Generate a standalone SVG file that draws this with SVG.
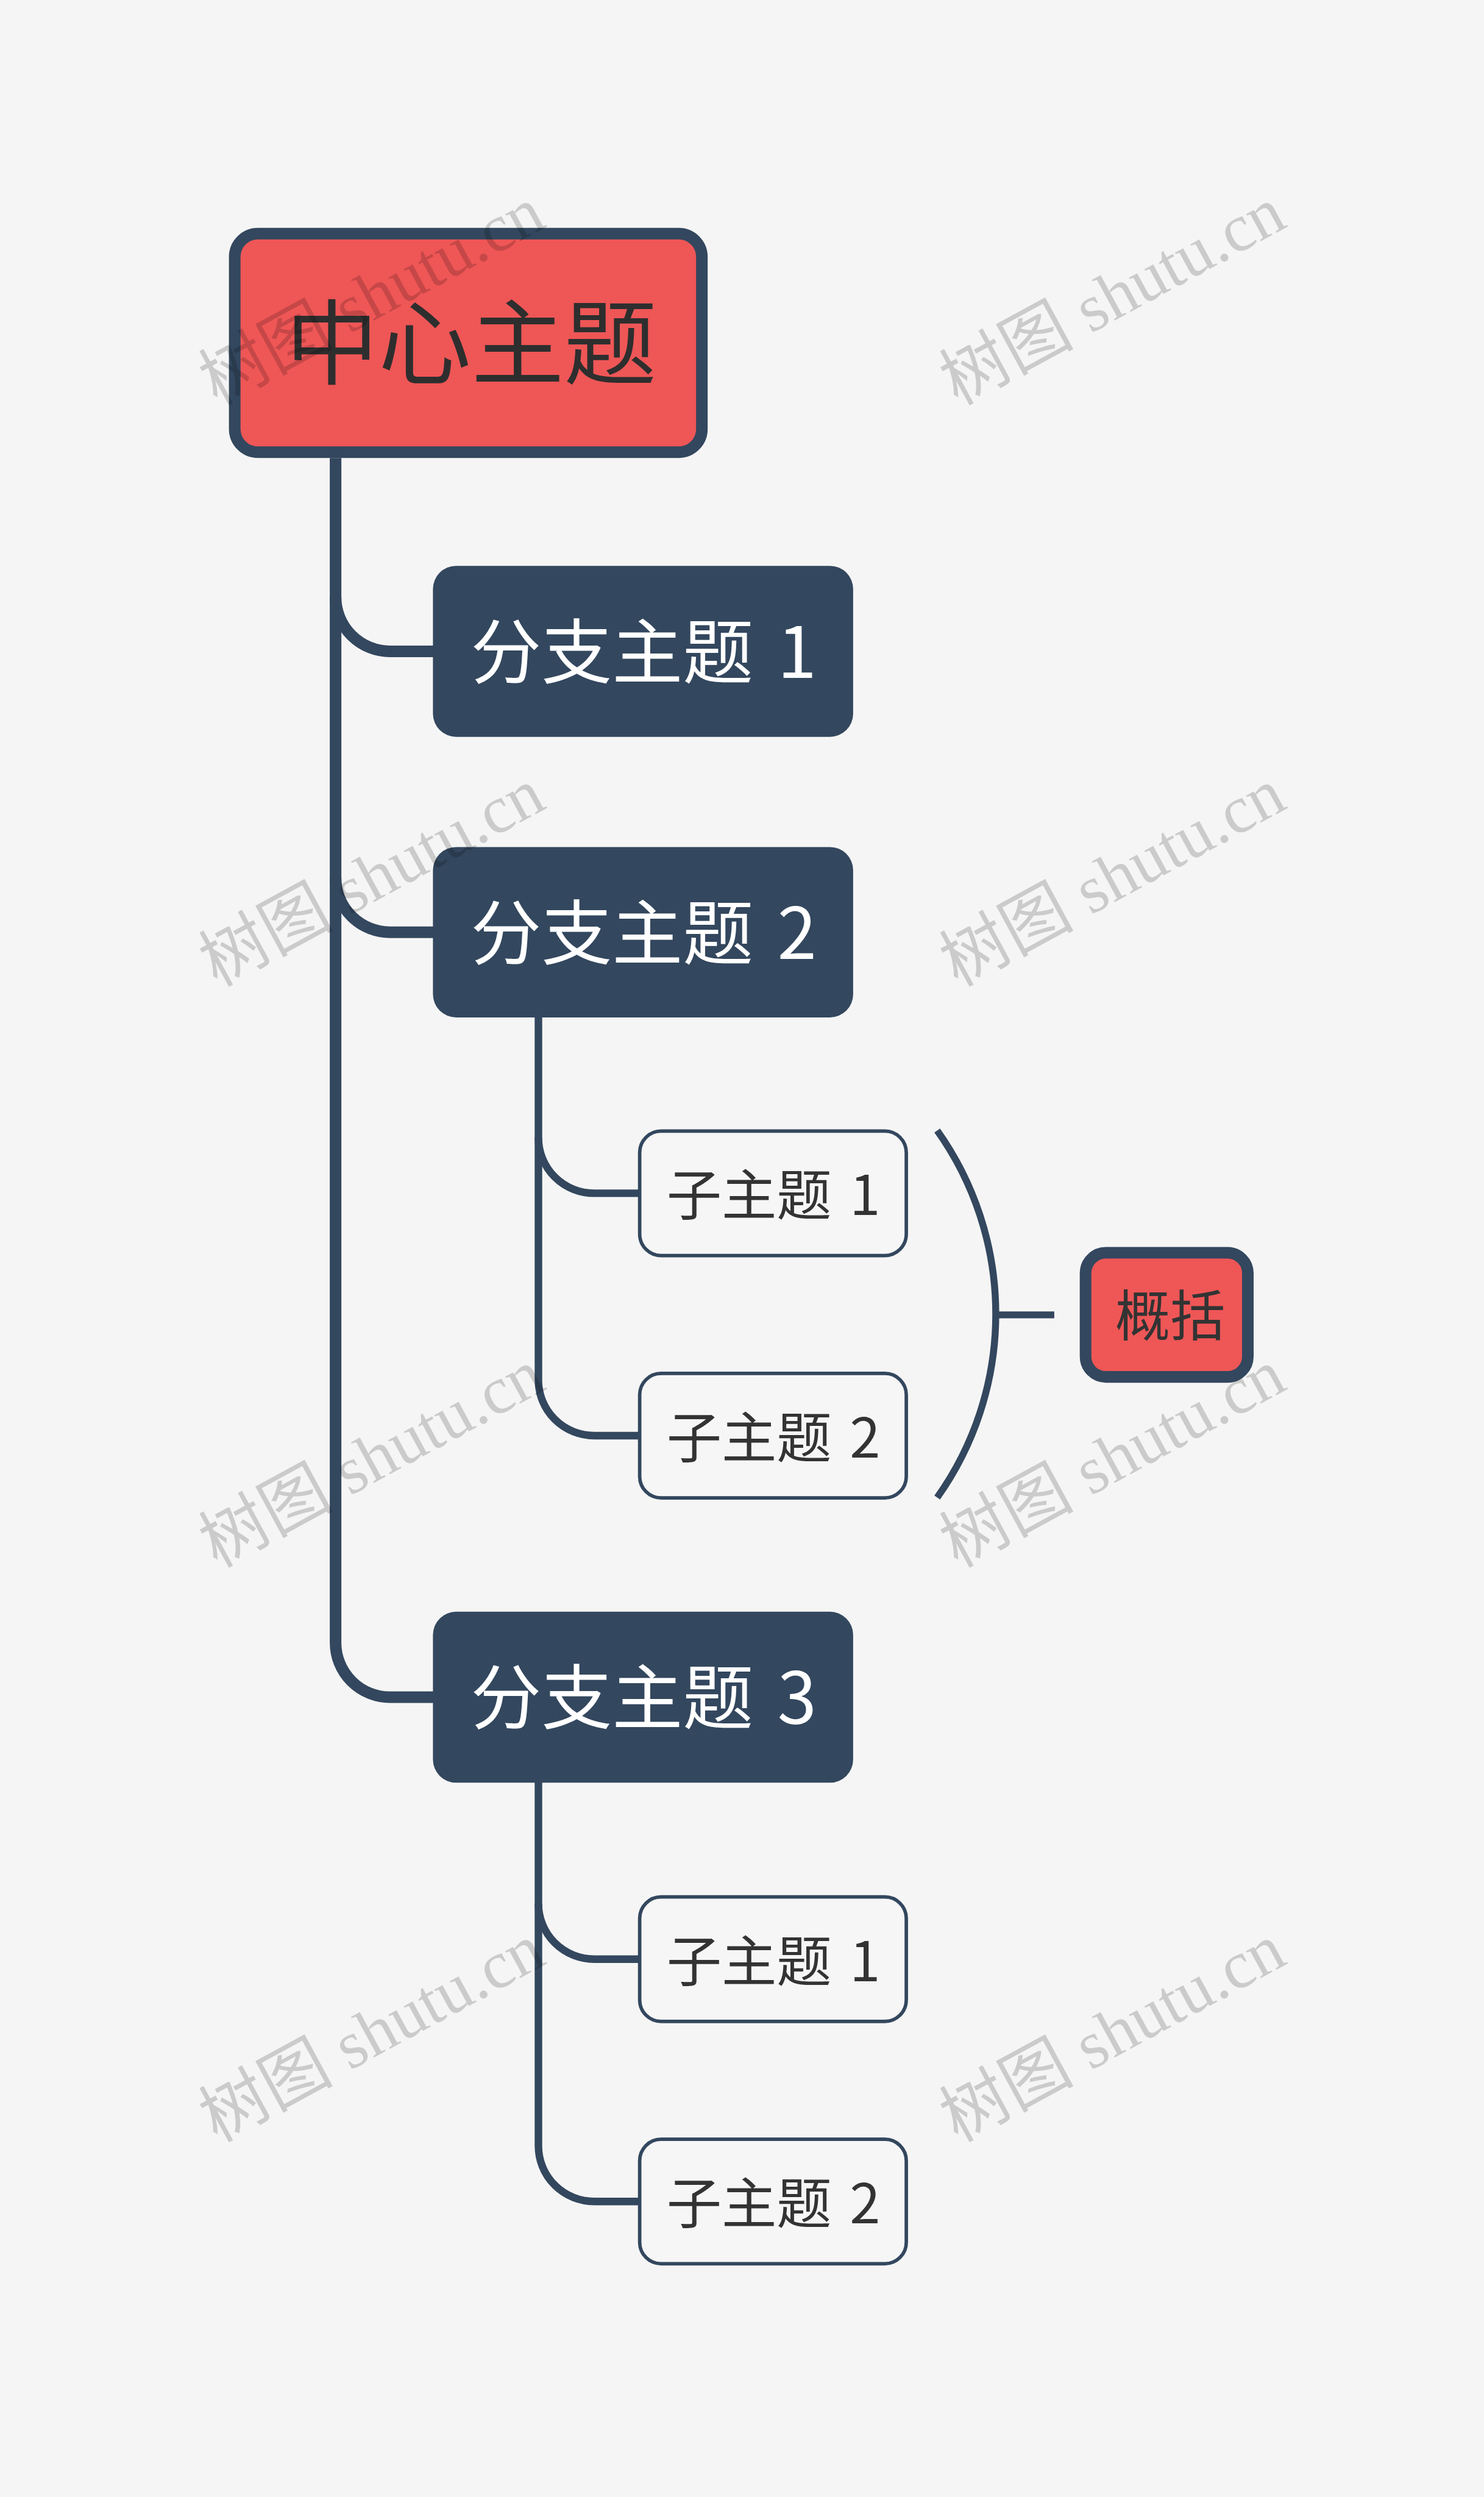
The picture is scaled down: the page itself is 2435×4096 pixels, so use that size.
<svg xmlns="http://www.w3.org/2000/svg" width="2435" height="4096" viewBox="0 0 2435 4096">
<defs>
<style>
.bg{fill:#F5F5F5}
.main{fill:#EF5656;stroke:#33475E;stroke-width:20}
.branch{fill:#33475E}
.sub{fill:#F6F6F6;stroke:#33475E;stroke-width:6}
.c1{fill:none;stroke:#33475E;stroke-width:20}
.c2{fill:none;stroke:#33475E;stroke-width:13}
.c3{fill:none;stroke:#33475E;stroke-width:12}
.t0{font-family:"Noto Sans CJK SC","Noto Sans",sans-serif;font-size:160px;fill:#2E2E2E}
.t1{font-family:"Noto Sans CJK SC","Noto Sans",sans-serif;font-size:122px;fill:#FFFFFF}
.t2{font-family:"Noto Sans CJK SC","Noto Sans",sans-serif;font-size:95px;fill:#333333}
.wm{font-family:"Liberation Serif","Noto Sans CJK SC",serif;font-size:116px;fill:#000000;fill-opacity:0.17;text-anchor:middle}
</style>
</defs>
<rect class="bg" x="0" y="0" width="2435" height="4096"/>
<g transform="scale(0.951)">
<g id="connectors">
<path class="c1" d="M579,790 V2833.5 A94,94 0 0 0 673,2927.5 H750"/>
<path class="c1" d="M579,1029.5 A94,94 0 0 0 673,1123.5 H750"/>
<path class="c1" d="M579,1514 A94,94 0 0 0 673,1608 H750"/>
<path class="c2" d="M929,1750 V2380.3 A96,96 0 0 0 1025,2476.3 H1102"/>
<path class="c2" d="M929,1962.3 A96,96 0 0 0 1025,2058.3 H1102"/>
<path class="c2" d="M929,3070 V3701.3 A96,96 0 0 0 1025,3797.3 H1102"/>
<path class="c2" d="M929,3283.3 A96,96 0 0 0 1025,3379.3 H1102"/>
<path class="c3" d="M1617,1950 A546,546 0 0 1 1617,2583"/>
<path class="c3" d="M1719,2268 H1819"/>
</g>
<g id="central">
<rect class="main" x="405" y="403" width="806" height="377" rx="40"/>
<text class="t0" x="813" y="651" text-anchor="middle">中心主题</text>
</g>
<g id="branch1">
<rect class="branch" x="747" y="976" width="725" height="295" rx="40"/>
<text class="t1" x="812" y="1169">分支主题 <tspan dx="14">1</tspan></text>
</g>
<g id="branch2">
<rect class="branch" x="747" y="1461" width="725" height="294" rx="40"/>
<text class="t1" x="812" y="1654">分支主题 <tspan dx="14">2</tspan></text>
</g>
<g id="branch3">
<rect class="branch" x="747" y="2780" width="725" height="295" rx="40"/>
<text class="t1" x="812" y="2973">分支主题 <tspan dx="14">3</tspan></text>
</g>
<g id="sub2-1">
<rect class="sub" x="1103.7" y="1951" width="460" height="214.7" rx="37"/>
<text class="t2" x="1150" y="2096">子主题 <tspan dx="10">1</tspan></text>
</g>
<g id="sub2-2">
<rect class="sub" x="1103.7" y="2369" width="460" height="214.7" rx="37"/>
<text class="t2" x="1150" y="2514">子主题 <tspan dx="10">2</tspan></text>
</g>
<g id="sub3-1">
<rect class="sub" x="1103.7" y="3272" width="460" height="214.7" rx="37"/>
<text class="t2" x="1150" y="3417">子主题 <tspan dx="10">1</tspan></text>
</g>
<g id="sub3-2">
<rect class="sub" x="1103.7" y="3690" width="460" height="214.7" rx="37"/>
<text class="t2" x="1150" y="3835">子主题 <tspan dx="10">2</tspan></text>
</g>
<g id="summary">
<rect class="main" x="1873" y="2161" width="280" height="214" rx="35"/>
<text class="t2" x="1924" y="2304">概括</text>
</g>
<g id="watermarks">
<text class="wm" x="660" y="545" transform="rotate(-28.5 660 545)">树图 shutu.cn</text>
<text class="wm" x="1938" y="545" transform="rotate(-28.5 1938 545)">树图 shutu.cn</text>
<text class="wm" x="660" y="1548" transform="rotate(-28.5 660 1548)">树图 shutu.cn</text>
<text class="wm" x="1938" y="1548" transform="rotate(-28.5 1938 1548)">树图 shutu.cn</text>
<text class="wm" x="660" y="2550" transform="rotate(-28.5 660 2550)">树图 shutu.cn</text>
<text class="wm" x="1938" y="2550" transform="rotate(-28.5 1938 2550)">树图 shutu.cn</text>
<text class="wm" x="660" y="3541" transform="rotate(-28.5 660 3541)">树图 shutu.cn</text>
<text class="wm" x="1938" y="3541" transform="rotate(-28.5 1938 3541)">树图 shutu.cn</text>
</g>
</g>
</svg>
